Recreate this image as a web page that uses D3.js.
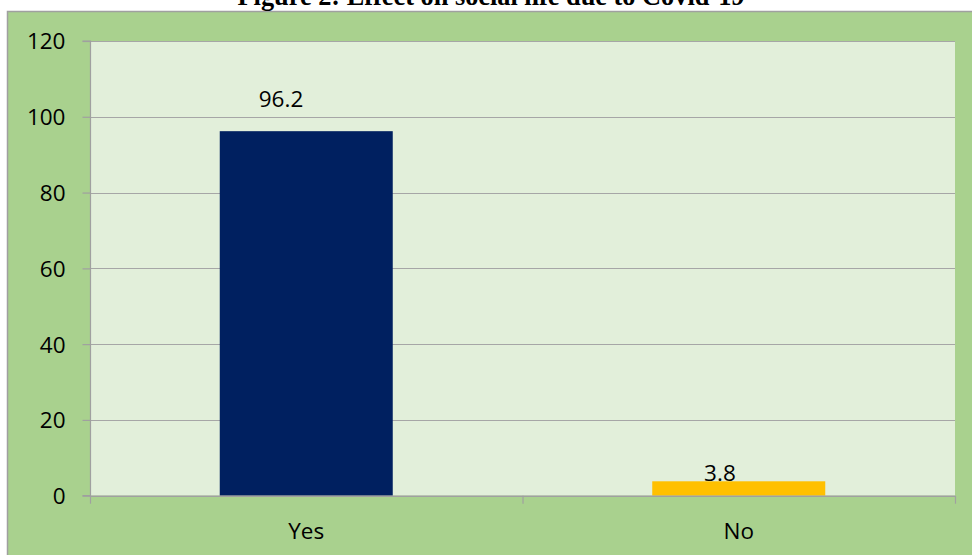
<!DOCTYPE html>
<html><head><meta charset="utf-8">
<script src="https://cdn.jsdelivr.net/npm/d3@7"></script>
<style>html,body{margin:0;padding:0;background:#fff;overflow:hidden}</style>
</head><body>
<svg id="c" width="972" height="555"></svg>
<script>
const categories = ["Yes", "No"];
const values = [96.2, 3.8];
const barColors = ["#002060", "#FFC000"];
const yTicks = [0, 20, 40, 60, 80, 100, 120];
const title = "Figure 2: Effect on social life due to Covid-19";

const svg = d3.select("#c");
const W = 972, H = 555;
const m = {left: 90, right: 17, top: 41, bottom: 59};

// outer chart area
svg.append("rect").attr("x", 7.5).attr("y", 11.5).attr("width", W).attr("height", H)
  .attr("fill", "#A9D18E").attr("stroke", "#A0A0A0").attr("stroke-width", 1.5);

const x = d3.scaleBand().domain(categories).range([m.left, W - m.right])
  .paddingInner(0.6).paddingOuter(0.3);
const y = d3.scaleLinear().domain([0, 120]).range([H - m.bottom - 0.3, m.top]);

// plot area
svg.append("rect").attr("x", m.left).attr("y", y(120)).attr("width", W - m.right - m.left)
  .attr("height", y(0) - y(120)).attr("fill", "#E2EFDA");

// gridlines
svg.append("g").selectAll("line").data(yTicks.filter(d => d > 0)).join("line")
  .attr("x1", m.left).attr("x2", W - m.right)
  .attr("y1", d => Math.round(y(d)) + 0.5).attr("y2", d => Math.round(y(d)) + 0.5)
  .attr("stroke", "#A6A6A6").attr("stroke-width", 1);

// y axis
const ya = svg.append("g").attr("transform", `translate(${m.left + 0.5},0)`)
  .call(d3.axisLeft(y).tickValues(yTicks).tickSize(8).tickPadding(17).tickFormat(d3.format("d")));
ya.select(".domain").attr("stroke", "#A0A0A0").attr("stroke-width", 1.2).attr("d", `M-8,${y(120)}H0V${y(0)}H-8`);
ya.selectAll(".tick line").attr("stroke", "#A0A0A0").attr("stroke-width", 1.2);
ya.selectAll(".tick text").attr("fill", "#000").style("font-family", "'Open Sans'").style("font-size", "22.5px").attr("dy", "0.35em");

// bars
svg.append("g").selectAll("rect").data(categories).join("rect")
  .attr("x", d => x(d)).attr("width", x.bandwidth())
  .attr("y", (d, i) => y(values[i])).attr("height", (d, i) => y(0) - y(values[i]))
  .attr("fill", (d, i) => barColors[i]);

// x axis line and ticks at category boundaries
const bounds = [m.left, ...categories.slice(1).map(c => x(c) - x.step() * x.paddingInner() / 2), W - m.right];
svg.append("line").attr("x1", m.left).attr("x2", W - m.right).attr("y1", y(0) + 0.5).attr("y2", y(0) + 0.5)
  .attr("stroke", "#A0A0A0").attr("stroke-width", 1.5);
svg.append("g").selectAll("line").data(bounds).join("line")
  .attr("x1", d => d + 0.5).attr("x2", d => d + 0.5).attr("y1", y(0)).attr("y2", y(0) + 8)
  .attr("stroke", "#A0A0A0").attr("stroke-width", 1.2);

// category labels
svg.append("g").selectAll("text").data(categories).join("text")
  .attr("x", d => x(d) + x.bandwidth() / 2).attr("y", 539)
  .attr("text-anchor", "middle").attr("fill", "#000")
  .style("font-family", "'Open Sans'").style("font-size", "22.5px").text(d => d);

// value labels
svg.append("g").selectAll("text").data(categories).join("text")
  .attr("x", d => x(d) + x.bandwidth() / 2 - 3).attr("y", (d, i) => y(values[i]) - (i === 0 ? 24 : 0))
  .attr("text-anchor", "end").attr("fill", "#000")
  .style("font-family", "'Open Sans'").style("font-size", "22.5px").text((d, i) => values[i]);

// title (partially clipped at top, as in the reference)
const t = svg.append("text").attr("x", 491).attr("y", 5).attr("text-anchor", "middle")
  .style("font-family", "'Liberation Serif'").style("font-weight", "bold").style("font-size", "21px")
  .attr("fill", "#000").text(title);
const len = t.node().getComputedTextLength();
t.style("font-size", (21 * 507 / len).toFixed(2) + "px");
</script>
</body></html>
